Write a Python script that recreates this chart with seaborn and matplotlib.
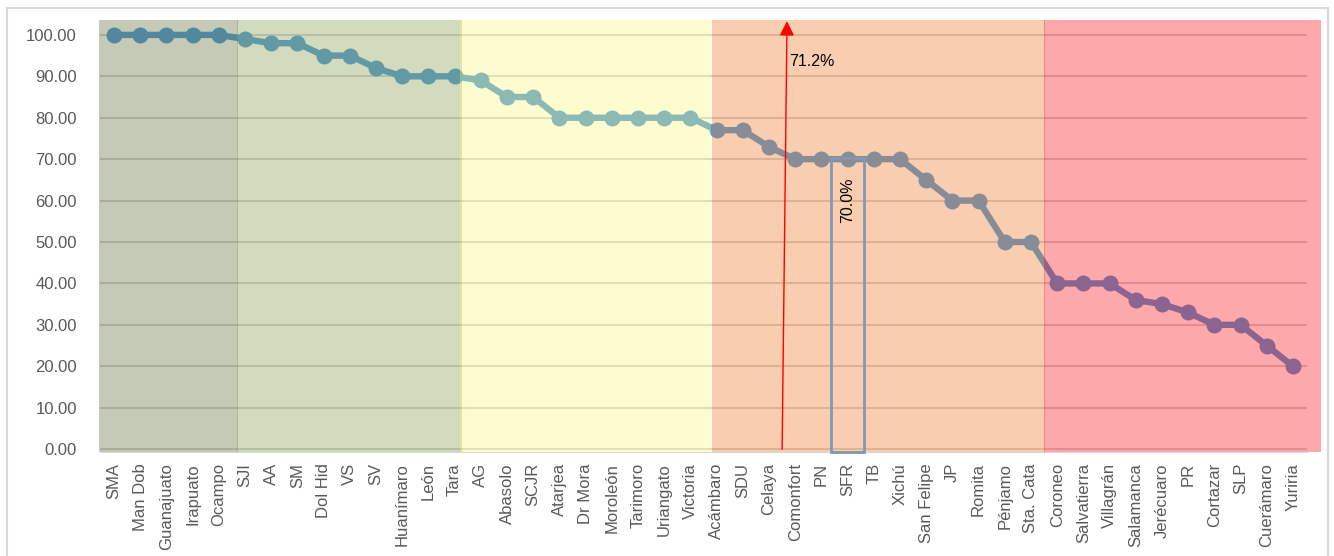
import matplotlib
matplotlib.use('Agg')
import matplotlib.pyplot as plt
import matplotlib.patches as mpatches
import seaborn as sns
import pandas as pd

# municipios y porcentaje
municipios = ['SMA', 'Man Dob', 'Guanajuato', 'Irapuato', 'Ocampo', 'SJI', 'AA', 'SM',
              'Dol Hid', 'VS', 'SV', 'Huanímaro', 'León', 'Tara', 'AG', 'Abasolo', 'SCJR',
              'Atarjea', 'Dr Mora', 'Moroleón', 'Tarimoro', 'Uriangato', 'Victoria',
              'Acámbaro', 'SDU', 'Celaya', 'Comonfort', 'PN', 'SFR', 'TB', 'Xichú',
              'San Felipe', 'JP', 'Romita', 'Pénjamo', 'Sta. Cata', 'Coroneo',
              'Salvatierra', 'Villagrán', 'Salamanca', 'Jerécuaro', 'PR', 'Cortazar',
              'SLP', 'Cuerámaro', 'Yuriria']
valores = [100, 100, 100, 100, 100, 99, 98, 98, 95, 95, 92, 90, 90, 90, 89, 85, 85,
           80, 80, 80, 80, 80, 80, 77, 77, 73, 70, 70, 70, 70, 70, 65, 60, 60, 50, 50,
           40, 40, 40, 36, 35, 33, 30, 30, 25, 20]

# franjas de color (inicio, fin, color)
franjas_ini = [-0.57, 4.68, 13.2, 22.82, 35.48]
franjas_fin = [4.72, 13.3, 22.78, 35.52, 46.1]
franjas_color = ['#5b6731', '#819a4a', '#fbf978', '#f0751d', '#fb060e']

promedio = 71.2
meta = 70.0
meta_idx = municipios.index('SFR')

plt.rcParams['font.family'] = ['Liberation Sans Narrow', 'Liberation Sans', 'DejaVu Sans']

df = pd.DataFrame({'x': range(len(municipios)), 'valor': valores})

fig = plt.figure(figsize=(13.34, 5.56), dpi=100)
ax = fig.add_axes([99 / 1334, 104 / 556, 1222 / 1334, 432 / 556])

# marco exterior
fig.patches.append(mpatches.Rectangle((7 / 1334, -0.05), 1321 / 1334, 1.05 - 8 / 556,
                                      transform=fig.transFigure, fill=False,
                                      edgecolor='#d9d9d9', lw=1.5))

ax.set_xlim(-0.573, 46.07)
ax.set_ylim(-0.7, 103.6)

# lineas de cuadricula
ax.hlines(range(0, 101, 10), -0.55, 45.53, color='#d4d4d4', lw=1.5, zorder=1)

sns.lineplot(data=df, x='x', y='valor', ax=ax, color='#5099d7', lw=4.6,
             marker='o', markersize=11.5, markeredgewidth=0, zorder=2)

for x0, x1, c in zip(franjas_ini, franjas_fin, franjas_color):
    ax.axvspan(x0, x1, color=c, alpha=0.35, lw=0, zorder=3)

# recuadro de la meta
ax.add_patch(mpatches.Rectangle((meta_idx - 0.63, -0.7), 1.26, meta + 1.0,
                                fill=False, edgecolor='#8497b0', lw=2, zorder=5,
                                clip_on=False))
ax.text(meta_idx, 65.5, f'{meta:.1f}%', rotation=90, ha='center', va='top',
        fontsize=11.5, color='black', zorder=6)

# flecha del promedio
ax.annotate('', xy=(25.69, 104), xytext=(25.5, -0.7),
            arrowprops=dict(arrowstyle='-|>', color='red', lw=1,
                            mutation_scale=22), zorder=6, annotation_clip=False)
ax.text(25.78, 93.5, f'{promedio:.1f}%', fontsize=11.5, color='black', va='center',
        zorder=6)

ax.set_yticks(range(0, 101, 10))
ax.set_yticklabels([f'{v:.2f}' for v in range(0, 101, 10)])
ax.set_xticks(range(len(municipios)))
ax.set_xticklabels(municipios, rotation=90)
ax.tick_params(axis='both', length=0, labelsize=12, colors='#595959')
ax.tick_params(axis='y', pad=16)
ax.tick_params(axis='x', pad=8)
ax.set_xlabel('')
ax.set_ylabel('')
for s in ['top', 'right', 'left']:
    ax.spines[s].set_visible(False)
ax.spines['bottom'].set_color('#d9d9d9')
ax.spines['bottom'].set_bounds(-0.55, 45.53)

fig.savefig('out.png', dpi=100)
